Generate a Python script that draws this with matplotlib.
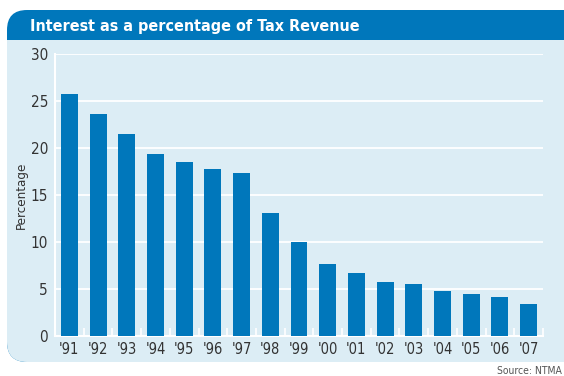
import numpy as np
import matplotlib
matplotlib.use("Agg")
import matplotlib.pyplot as plt
from matplotlib.patches import FancyBboxPatch, Rectangle

# interest paid as a share of tax revenue, by year
years = ["'91", "'92", "'93", "'94", "'95", "'96", "'97", "'98", "'99",
         "'00", "'01", "'02", "'03", "'04", "'05", "'06", "'07"]
interest_pct = [25.7, 23.6, 21.5, 19.4, 18.5, 17.8, 17.3, 13.1, 10.0,
                7.7, 6.7, 5.7, 5.5, 4.8, 4.5, 4.1, 3.4]

BLUE = "#0077bb"
PALE = "#dcedf5"
TEXT = "#333333"
FONT = ["DejaVu Sans"]
STRETCH = "condensed"

W, H = 564, 376
fig = plt.figure(figsize=(W / 100, H / 100), dpi=100)
fig.patch.set_facecolor("white")

# background panel drawn in pixel units
bg = fig.add_axes([0, 0, 1, 1])
bg.set_xlim(0, W)
bg.set_ylim(H, 0)
bg.axis("off")
r = 20
bg.add_patch(FancyBboxPatch((7 + r, 10 + r), 580 - 2 * r, 352 - 2 * r,
                            boxstyle="round,pad=%d" % r, fc=BLUE, ec="none"))
bg.add_patch(FancyBboxPatch((7 + r, 40 + r), 580 - 2 * r, 322 - 2 * r,
                            boxstyle="round,pad=%d" % r, fc=PALE, ec="none"))
bg.add_patch(Rectangle((7, 40), 580, 40, fc=PALE, ec="none"))
bg.text(30, 26, "Interest as a percentage of Tax Revenue", color="white",
        fontsize=11.5, fontweight="bold", family=FONT, stretch=STRETCH,
        va="center", ha="left")
bg.text(562, 371, "Source: NTMA", color="#555555", fontsize=7.5,
        family=FONT, stretch=STRETCH, va="center", ha="right")

ax = fig.add_axes([55 / W, 40 / H, 488 / W, 282 / H])
ax.set_facecolor(PALE)
x = np.arange(len(years))
ax.bar(x, interest_pct, width=0.59, color=BLUE, zorder=3)

ax.set_xlim(-0.5, len(years) - 0.5)
ax.set_ylim(0, 30)
ax.set_yticks(range(0, 31, 5))
ax.set_xticks(x)
ax.set_xticklabels(years, family=FONT, stretch=STRETCH, fontsize=10.5,
                   color=TEXT)
for lbl in ax.get_yticklabels():
    lbl.set_family(FONT)
    lbl.set_stretch(STRETCH)
    lbl.set_fontsize(11)
    lbl.set_color(TEXT)
ax.tick_params(axis="y", length=0, pad=5)
ax.tick_params(axis="x", length=0, pad=4)

# small white separators between the bars
ax.set_xticks(np.arange(-0.5, len(years), 1.0), minor=True)
ax.tick_params(axis="x", which="minor", direction="in", length=6,
               width=1.2, color="white")

ax.grid(axis="y", color="white", linewidth=1.3, zorder=1)
for side in ["top", "right"]:
    ax.spines[side].set_visible(False)
for side in ["left", "bottom"]:
    ax.spines[side].set_color("white")
    ax.spines[side].set_linewidth(1.5)
ax.set_ylabel("Percentage", family=FONT, stretch=STRETCH, fontsize=9.5,
              color=TEXT, labelpad=2)

fig.savefig("out.png", dpi=100)
